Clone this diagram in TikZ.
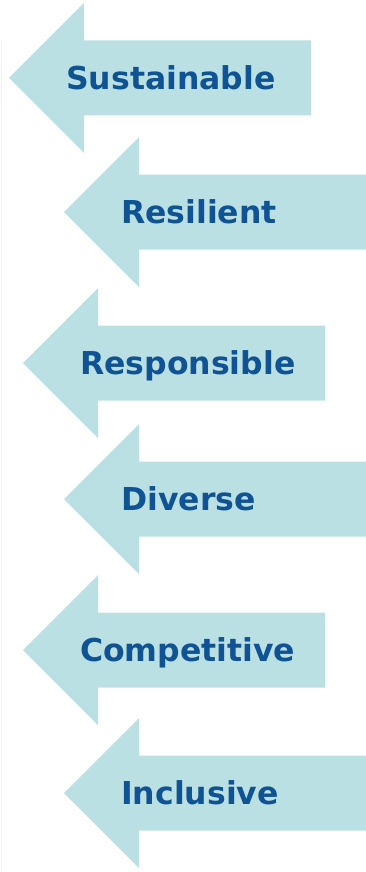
\documentclass[tikz,border=0pt]{standalone}
\usepackage{fontspec}
\setmainfont{DejaVu Sans}
\definecolor{arrowfill}{HTML}{BAE0E3}
\definecolor{labelblue}{HTML}{0F5394}
\definecolor{edgeline}{HTML}{EEF5FA}
\begin{document}
\begin{tikzpicture}[x=1pt,y=-1pt,
  arrowtext/.style={anchor=base west, inner sep=0pt, text=labelblue,
    font=\fontsize{31.5}{36}\selectfont\bfseries}]
\useasboundingbox (0,0) rectangle (366,872);
\draw[edgeline, line width=1pt] (1.5,42) -- (1.5,872);
\foreach \tip/\cy/\right/\name/\txt in {9/78/311/a1/Sustainable, 64/212/366/a2/Resilient, 23/363/325/a3/Responsible, 64/499/366/a4/Diverse, 23/650/325/a5/Competitive, 64/793/366/a6/Inclusive} {
  \fill[arrowfill] (\tip,\cy) -- (\tip+75,\cy-75) -- (\tip+75,\cy-37.5) -- (\right,\cy-37.5)
    -- (\right,\cy+37.5) -- (\tip+75,\cy+37.5) -- (\tip+75,\cy+75) -- cycle;
  \node[arrowtext] (\name) at (\tip+57,\cy+11.5) {\txt};
}
\end{tikzpicture}
\end{document}
